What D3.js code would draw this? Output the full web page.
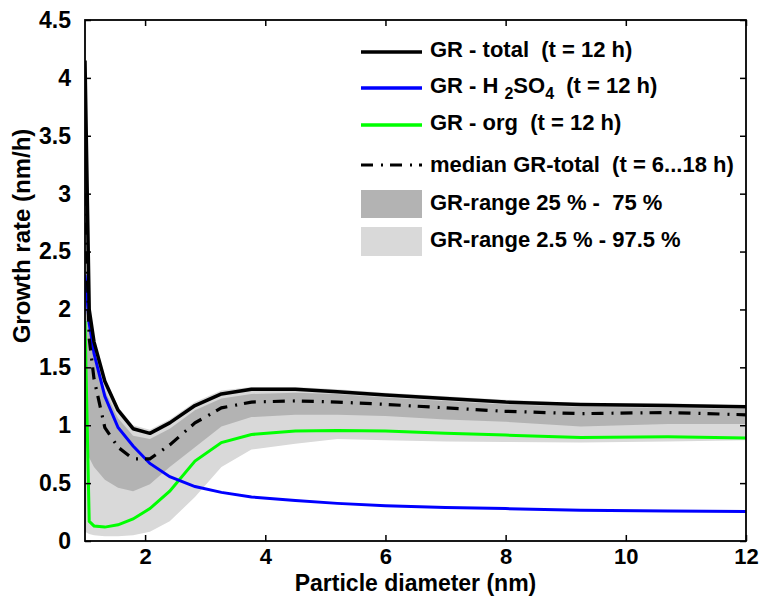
<!DOCTYPE html>
<html>
<head>
<meta charset="utf-8">
<script src="https://cdn.jsdelivr.net/npm/d3@7"></script>
<style>
  body { margin: 0; background: #fff; }
  text { font-family: "Liberation Sans", Arial, sans-serif; font-weight: bold; white-space: pre; }
</style>
</head>
<body>
<div id="my_dataviz"></div>
<script>
// particle diameters (nm) where the model was evaluated
var diam = [1.0, 1.07, 1.15, 1.33, 1.55, 1.8, 2.08, 2.41, 2.83, 3.27, 3.77, 4.5, 5.2, 6.0, 7.0, 8.0, 9.25, 10.7, 12];

// growth rates (nm/h)
var grTotal  = [4.15, 2.0, 1.72, 1.38, 1.13, 0.97, 0.93, 1.02, 1.17, 1.27, 1.31, 1.31, 1.29, 1.26, 1.23, 1.20, 1.18, 1.17, 1.16];
var grH2so4  = [2.3, 1.88, 1.62, 1.25, 0.98, 0.82, 0.67, 0.555, 0.47, 0.42, 0.38, 0.35, 0.325, 0.305, 0.29, 0.28, 0.265, 0.26, 0.255];
var grOrg    = [1.9, 0.17, 0.13, 0.12, 0.14, 0.19, 0.28, 0.43, 0.69, 0.85, 0.92, 0.95, 0.955, 0.95, 0.93, 0.915, 0.895, 0.90, 0.89];
var grMedian = [3.0, 1.75, 1.40, 0.98, 0.81, 0.71, 0.71, 0.83, 1.02, 1.15, 1.20, 1.21, 1.20, 1.18, 1.15, 1.12, 1.10, 1.11, 1.09];

// percentile bands
var q25  = [0.85, 0.72, 0.64, 0.53, 0.46, 0.43, 0.49, 0.64, 0.81, 0.99, 1.07, 1.09, 1.09, 1.08, 1.05, 1.03, 0.99, 1.01, 1.01];
var q75  = [3.2, 1.9, 1.62, 1.30, 1.06, 0.91, 0.88, 0.97, 1.13, 1.23, 1.27, 1.28, 1.27, 1.24, 1.21, 1.18, 1.16, 1.15, 1.14];
var q025 = [0.08, 0.06, 0.05, 0.04, 0.04, 0.05, 0.08, 0.17, 0.38, 0.64, 0.79, 0.84, 0.88, 0.87, 0.86, 0.855, 0.85, 0.86, 0.87];
var q975 = [4.2, 2.05, 1.76, 1.41, 1.16, 1.0, 0.96, 1.05, 1.2, 1.30, 1.33, 1.33, 1.31, 1.28, 1.25, 1.22, 1.19, 1.19, 1.17];

var xTicks = [2, 4, 6, 8, 10, 12];
var yTicks = [0, 0.5, 1, 1.5, 2, 2.5, 3, 3.5, 4, 4.5];

var margin = {top: 20, right: 16, bottom: 61, left: 85},
    width = 762 - margin.left - margin.right,
    height = 602 - margin.top - margin.bottom;

var svg = d3.select("#my_dataviz")
    .append("svg")
    .attr("width", 762)
    .attr("height", 602)
    .append("g")
    .attr("transform", "translate(" + margin.left + "," + margin.top + ")");

var x = d3.scaleLinear().domain([1, 12]).range([0, width]);
var y = d3.scaleLinear().domain([0, 4.5]).range([height, 0]);

var idx = d3.range(diam.length);

svg.append("clipPath").attr("id", "clip")
    .append("rect").attr("width", width).attr("height", height);

var plot = svg.append("g").attr("clip-path", "url(#clip)");

function band(lo, hi) {
    return d3.area()
        .x(function (i) { return x(diam[i]); })
        .y0(function (i) { return y(lo[i]); })
        .y1(function (i) { return y(hi[i]); });
}
function line(vals) {
    return d3.line()
        .x(function (i) { return x(diam[i]); })
        .y(function (i) { return y(vals[i]); });
}

// bands first, lines on top
plot.append("path").attr("d", band(q025, q975)(idx)).attr("fill", "#d9d9d9");
plot.append("path").attr("d", band(q25, q75)(idx)).attr("fill", "#b3b3b3");

plot.append("path").attr("d", line(grOrg)(idx))
    .attr("fill", "none").attr("stroke", "#00ff00").attr("stroke-width", 3);
plot.append("path").attr("d", line(grH2so4)(idx))
    .attr("fill", "none").attr("stroke", "#0000ff").attr("stroke-width", 3);
plot.append("path").attr("d", line(grMedian)(idx))
    .attr("fill", "none").attr("stroke", "#000").attr("stroke-width", 3.2)
    .attr("stroke-dasharray", "12,8,2,7");
plot.append("path").attr("d", line(grTotal)(idx))
    .attr("fill", "none").attr("stroke", "#000").attr("stroke-width", 3.5)
    .attr("stroke-linejoin", "round");

// axes, ticks pointing inwards on all four sides
var tickLen = 6;
svg.append("g")
    .attr("transform", "translate(0," + height + ")")
    .call(d3.axisBottom(x).tickValues(xTicks).tickSizeInner(-tickLen).tickSizeOuter(0).tickPadding(7))
    .call(g => g.selectAll("text").style("font-size", "22px").attr("fill", "#000"));
svg.append("g")
    .call(d3.axisTop(x).tickValues(xTicks).tickSizeInner(-tickLen).tickSizeOuter(0).tickFormat(""));
svg.append("g")
    .call(d3.axisLeft(y).tickValues(yTicks).tickSizeInner(-tickLen).tickSizeOuter(0).tickPadding(14)
        .tickFormat(d3.format("~g")))
    .call(g => g.selectAll("text").style("font-size", "23px").attr("fill", "#000"));
svg.append("g")
    .attr("transform", "translate(" + width + ",0)")
    .call(d3.axisRight(y).tickValues(yTicks).tickSizeInner(-tickLen).tickSizeOuter(0).tickFormat(""));

svg.selectAll(".domain").remove();
svg.selectAll(".tick line").attr("stroke", "#000").attr("stroke-width", 1.5);
svg.selectAll(".tick text").style("font-family", "'Liberation Sans', Arial, sans-serif");

svg.append("rect")
    .attr("width", width).attr("height", height)
    .attr("fill", "none").attr("stroke", "#000").attr("stroke-width", 1.8);

// axis titles
svg.append("text")
    .attr("x", width / 2).attr("y", height + 50)
    .attr("text-anchor", "middle")
    .style("font-size", "23px")
    .text("Particle diameter (nm)");
svg.append("text")
    .attr("transform", "translate(-55," + (236 - margin.top) + ") rotate(-90)")
    .attr("text-anchor", "middle")
    .style("font-size", "24px")
    .text("Growth rate (nm/h)");

// legend
var leg = svg.append("g").attr("transform", "translate(" + (361 - margin.left) + "," + (-margin.top) + ")");
var legLines = [
    {y: 52, color: "#000", dash: null, w: 3.5},
    {y: 88, color: "#0000ff", dash: null, w: 3.5},
    {y: 125, color: "#00ff00", dash: null, w: 3.5},
    {y: 165, color: "#000", dash: "12,8,2,7", w: 3.2}
];
leg.selectAll("line.sample").data(legLines).enter().append("line")
    .attr("x1", 0).attr("x2", 61)
    .attr("y1", d => d.y).attr("y2", d => d.y)
    .attr("stroke", d => d.color).attr("stroke-width", d => d.w)
    .attr("stroke-dasharray", d => d.dash);
leg.append("rect").attr("x", 0).attr("y", 190).attr("width", 61).attr("height", 28).attr("fill", "#b3b3b3");
leg.append("rect").attr("x", 0).attr("y", 227).attr("width", 61).attr("height", 29).attr("fill", "#d9d9d9");

var tx = 69;
leg.append("text").attr("x", tx).attr("y", 57).style("font-size", "22px").text("GR - total  (t = 12 h)");
var h2 = leg.append("text").attr("x", tx).attr("y", 93).style("font-size", "22px");
h2.append("tspan").text("GR - H");
h2.append("tspan").attr("dx", 6).attr("dy", 6).style("font-size", "16px").text("2");
h2.append("tspan").attr("dy", -6).text("SO");
h2.append("tspan").attr("dy", 6).style("font-size", "16px").text("4");
h2.append("tspan").attr("dy", -6).text("  (t = 12 h)");
leg.append("text").attr("x", tx).attr("y", 130).style("font-size", "22px").text("GR - org  (t = 12 h)");
leg.append("text").attr("x", tx).attr("y", 172).style("font-size", "22px").text("median GR-total  (t = 6...18 h)");
leg.append("text").attr("x", tx).attr("y", 210).style("font-size", "22px").text("GR-range 25 % -  75 %");
leg.append("text").attr("x", tx).attr("y", 247).style("font-size", "22px").text("GR-range 2.5 % - 97.5 %");
</script>
</body>
</html>
